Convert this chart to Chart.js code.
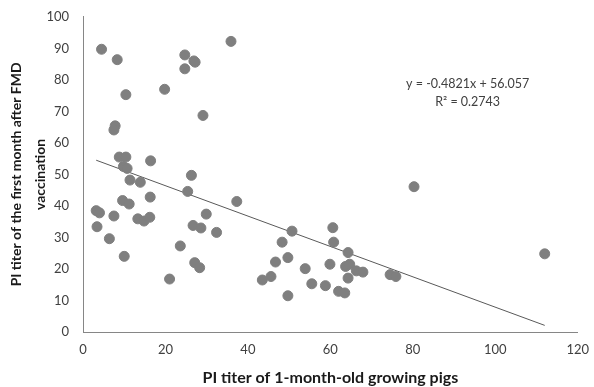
<!DOCTYPE html>
<html>
<head>
<meta charset="utf-8">
<script src="https://cdn.jsdelivr.net/npm/chart.js@4.4.0/dist/chart.umd.min.js"></script>
<style>
  html, body { margin: 0; padding: 0; background: #fff; }
  #wrap { width: 594px; height: 387px; position: relative; }
</style>
</head>
<body>
<div id="wrap"><canvas id="c"></canvas></div>
<script>
// PI titer at 1 month (x) vs first month after FMD vaccination (y)
const titerYoung = [
  4.5, 8.3, 10.4, 7.8, 7.5, 8.8, 10.4, 9.8, 10.7, 16.4, 19.8, 24.7, 24.7, 26.9, 27.2,
  35.9, 29.1, 26.3, 3.2, 4.0, 3.4, 6.4, 7.5, 9.6, 11.2, 10.0, 11.4, 13.9, 13.3, 14.8,
  16.2, 16.3, 21.0, 23.6, 25.4, 26.7, 28.6, 27.1, 28.3, 29.9, 32.4, 37.3, 50.7, 60.6,
  60.8, 48.3, 64.3, 46.7, 49.7, 53.9, 59.9, 63.7, 64.7, 66.3, 67.9, 64.3, 43.5, 45.6,
  55.5, 58.8, 62.0, 63.5, 49.7, 74.5, 75.9, 80.3, 112.0
];
const titerAfter = [
  89.7, 86.4, 75.3, 65.4, 64.1, 55.5, 55.5, 52.5, 51.9, 54.3, 77.0, 87.9, 83.5, 86.0, 85.6,
  92.2, 68.7, 49.7, 38.5, 37.8, 33.4, 29.6, 36.8, 41.7, 40.6, 24.0, 48.2, 47.5, 35.9, 35.2,
  36.4, 42.8, 16.8, 27.3, 44.6, 33.8, 33.0, 22.0, 20.4, 37.4, 31.6, 41.4, 32.0, 33.1,
  28.5, 28.5, 25.2, 22.2, 23.6, 20.1, 21.5, 20.8, 21.5, 19.4, 19.0, 17.1, 16.5, 17.6,
  15.3, 14.7, 12.9, 12.4, 11.5, 18.2, 17.6, 46.1, 24.8
];
const trendX = [3.2, 112];
const trendY = [54.5, 2.1];
const xTicks = [0, 20, 40, 60, 80, 100, 120];
const yTicks = [0, 10, 20, 30, 40, 50, 60, 70, 80, 90, 100];
const eqLines = ['y = -0.4821x + 56.057', 'R² = 0.2743'];

const FONT = 'Lato, "Open Sans", sans-serif';
const axisColor = '#868686';
const textColor = '#404040';

// trendline equation written inside the plot
const eqLabel = {
  id: 'eqLabel',
  afterDatasetsDraw(chart) {
    const { ctx, scales: { x, y } } = chart;
    ctx.save();
    ctx.fillStyle = textColor;
    ctx.font = '12.5px ' + FONT;
    ctx.textAlign = 'center';
    ctx.textBaseline = 'middle';
    ctx.fillText(eqLines[0], x.getPixelForValue(93.3), y.getPixelForValue(78.7));
    ctx.fillText(eqLines[1], x.getPixelForValue(93.3), y.getPixelForValue(73.0));
    ctx.restore();
  }
};

new Chart(document.getElementById('c'), {
  type: 'scatter',
  data: {
    datasets: [
      {
        label: 'PI titer',
        data: titerYoung.map((v, i) => ({ x: v, y: titerAfter[i] })),
        backgroundColor: '#7f7f7f',
        borderColor: '#7f7f7f',
        pointRadius: 5,
        pointHoverRadius: 5,
      },
      {
        label: 'Linear',
        type: 'line',
        data: trendX.map((v, i) => ({ x: v, y: trendY[i] })),
        borderColor: '#595959',
        borderWidth: 1,
        pointRadius: 0,
        fill: false,
      },
    ],
  },
  options: {
    responsive: true,
    maintainAspectRatio: false,
    animation: false,
    layout: { padding: { left: 0, right: 14, top: 4, bottom: 0 } },
    plugins: {
      legend: { display: false },
      tooltip: { enabled: false },
    },
    scales: {
      x: {
        type: 'linear',
        min: 0,
        max: 120,
        afterBuildTicks: s => { s.ticks = xTicks.map(v => ({ value: v })); },
        afterFit: s => { s.height = 55; },
        grid: { display: false, drawOnChartArea: false, drawTicks: true, tickLength: 5, color: axisColor },
        border: { color: axisColor, width: 1 },
        ticks: { color: textColor, font: { family: FONT, size: 13 }, padding: 5, maxRotation: 0 },
        title: {
          display: true,
          text: 'PI titer of 1-month-old growing pigs',
          color: '#1a1a1a',
          font: { family: FONT, size: 16, weight: 'bold' },
          padding: { top: 0, bottom: 0 },
        },
      },
      y: {
        type: 'linear',
        min: 0,
        max: 100,
        afterBuildTicks: s => { s.ticks = yTicks.map(v => ({ value: v })); },
        afterFit: s => { s.width = 83; },
        grid: { display: false, drawOnChartArea: false, drawTicks: true, tickLength: 5, color: axisColor },
        border: { color: axisColor, width: 1 },
        ticks: { color: textColor, font: { family: FONT, size: 13 }, padding: 9 },
        title: {
          display: true,
          text: ['PI titer of the first month after FMD', 'vaccination'],
          color: '#1a1a1a',
          font: { family: FONT, size: 14, weight: 'bold', lineHeight: 1.7 },
          padding: { top: 5, bottom: 0 },
        },
      },
    },
  },
  plugins: [eqLabel],
});
</script>
</body>
</html>
